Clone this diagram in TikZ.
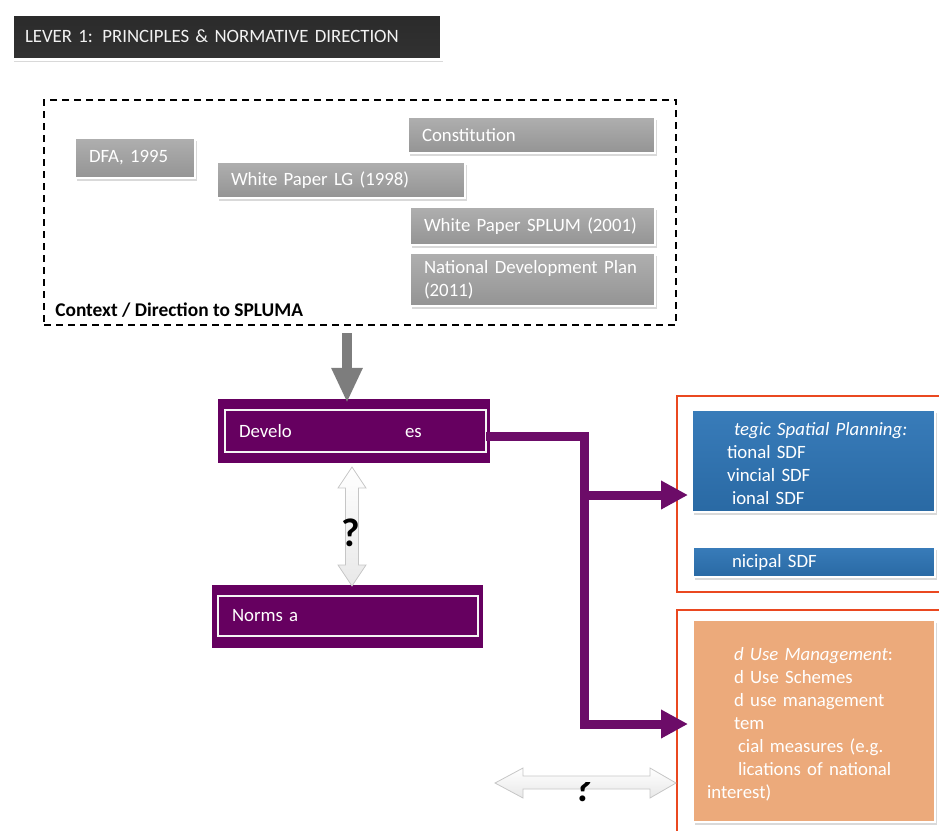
\documentclass[tikz,border=0pt]{standalone}
\usepackage{fontspec}
\setmainfont{Carlito}
\usetikzlibrary{shadows,arrows.meta,calc}
\definecolor{purp}{RGB}{102,0,96}
\definecolor{purpline}{RGB}{108,12,104}
\definecolor{docgray}{RGB}{168,168,168}
\definecolor{titlegray}{RGB}{62,62,62}
\definecolor{sdfblue}{RGB}{46,117,182}
\definecolor{lumorange}{RGB}{236,170,123}
\definecolor{frred}{RGB}{234,72,32}
\definecolor{arrgray}{RGB}{125,125,125}
\tikzset{
  basefont/.style={font=\fontsize{18.8pt}{23pt}\selectfont},
  shd/.style={drop shadow={opacity=0.3,shadow xshift=1.5pt,shadow yshift=-2.5pt}},
  titlebox/.style={shd, top color=titlegray!110!white, bottom color=titlegray!80!black, draw=white, line width=3pt, text=white!90!gray, inner xsep=13pt, inner ysep=0pt, align=left},
  docbox/.style={shd, top color=docgray!92!white, bottom color=docgray!88!black, draw=white, line width=2.5pt, text=white, inner xsep=14pt, inner ysep=0pt, align=left},
  ctxbox/.style={draw=black, line width=1.8pt, dash pattern=on 7pt off 5pt, inner sep=0pt},
  pbox/.style={fill=purp, draw=none, inner sep=0pt},
  pinner/.style={fill=purp, draw=white!92!gray, line width=2.5pt, text=white, inner xsep=14pt, inner ysep=0pt, align=left},
  frame/.style={draw=frred, line width=1.8pt, inner sep=0pt},
  bluebox/.style={shd, top color=sdfblue!95!white, bottom color=sdfblue!90!black, draw=white, line width=2pt, text=white, inner xsep=14pt, inner ysep=0pt, align=left},
  orangebox/.style={shd, fill=lumorange, draw=white, line width=2pt, text=white, inner xsep=14pt, inner ysep=0pt, align=left},
  graya/.style={draw=arrgray, line width=10pt, -{Triangle[length=35pt,width=29pt]}},
  pline/.style={draw=purpline, line width=9pt, line join=miter},
  parrow/.style={draw=purpline, line width=9pt, -{Triangle[length=27pt,width=27pt]}},
  dbla/.style={draw=gray!45, line width=0.8pt, top color=white, bottom color=gray!18},
  qmark/.style={font=\fontsize{40pt}{40pt}\selectfont\bfseries, text=black, inner sep=0pt}
}
\begin{document}
\begin{tikzpicture}[x=1pt,y=-1pt,basefont]
\useasboundingbox (0,0) rectangle (939,830);

% title
\node[titlebox, minimum width=429pt, minimum height=45pt, text width=403pt] (title) at (226.5,36.5) {LEVER 1: PRINCIPLES \& NORMATIVE DIRECTION};

% context box
\node[ctxbox, minimum width=632pt, minimum height=225pt] (ctx) at (360,212.5) {};
\node[anchor=base west, font=\fontsize{19.4pt}{23pt}\selectfont\bfseries, inner sep=0pt] (ctxlbl) at ($(ctx.south west)+(12,-9)$) {Context / Direction to SPLUMA};

\node[docbox, minimum width=247pt, minimum height=36pt, text width=219pt] (cons) at (531.5,135) {Constitution};
\node[docbox, minimum width=120pt, minimum height=40pt, text width=92pt] (dfa) at (135,158) {DFA, 1995};
\node[docbox, minimum width=248pt, minimum height=36pt, text width=220pt] (wplg) at (341,180) {White Paper LG (1998)};
\node[docbox, minimum width=245pt, minimum height=38pt, text width=217pt] (wps) at (532.5,226) {White Paper SPLUM (2001)};
\node[docbox, minimum width=245pt, minimum height=53pt, text width=217pt] (ndp) at (532.5,279.5) {National Development Plan\\(2011)};

% development principles box
\node[pbox, minimum width=272pt, minimum height=64pt] (dev) at (354,431) {};
\node[pinner, minimum width=261pt, minimum height=42pt, text width=233pt] (devtxt) at (355.5,431) {\makebox[166pt][l]{Develo}es};

% norms box
\node[pbox, minimum width=271pt, minimum height=63pt] (norms) at (347.5,616.5) {};
\node[pinner, minimum width=260pt, minimum height=40pt, text width=232pt] (normstxt) at (348,616) {Norms a};

% gray arrow from context to development
\coordinate (gs) at (347,333);
\draw[graya] (gs) -- ($(gs |- dev.north)+(0,4)$);

% vertical double arrow with question mark
\draw[dbla] (352,467) -- (366,488) -- (358.5,488) -- (358.5,565) -- (366,565) -- (352,586) -- (338,565) -- (345.5,565) -- (345.5,488) -- (338,488) -- cycle;
\node[qmark] (q1) at (351,533) {?};

% right frames
\node[frame, minimum width=268pt, minimum height=196pt] (fr1) at (811,494) {};
\node[frame, minimum width=268pt, minimum height=230pt] (fr2) at (811,725) {};

\node[bluebox, minimum width=243pt, minimum height=102pt, text width=215pt] (sp) at (813.5,461) {\rule{0pt}{19pt}\hspace*{28pt}\textit{tegic Spatial Planning:}\\\hspace*{21pt}tional SDF\\\hspace*{21pt}vincial SDF\\\hspace*{26pt}ional SDF};
\node[bluebox, minimum width=242pt, minimum height=30pt, text width=214pt] (msdf) at (814,562) {\hspace*{25pt}nicipal SDF};

\node[orangebox, minimum width=242pt, minimum height=202pt, text width=214pt] (lu) at (814,721) {\rule{0pt}{20pt}\hspace*{27pt}\textit{d Use Management}:\\\hspace*{27pt}d Use Schemes\\\hspace*{27pt}d use management\\\hspace*{27pt}tem\\\hspace*{31pt}cial measures (e.g.\\\hspace*{31pt}lications of national\\interest)};

% purple connectors
\coordinate (j1) at (584,436);
\coordinate (j2) at (584,495);
\coordinate (j3) at (584,724);
\draw[pline] ($(j1 -| dev.east)+(-4,0)$) -- (j1) -- ($(j3)+(0,4.5)$);
\draw[parrow] (j2) -- ($(j2 -| sp.west)+(-3,0)$);
\draw[parrow] (j3) -- ($(j3 -| lu.west)+(-4,0)$);

% horizontal double arrow with (partly hidden) question mark
\draw[dbla] (495,783) -- (523,768) -- (523,776) -- (650,776) -- (650,768) -- (676,783) -- (650,798) -- (650,789) -- (523,789) -- (523,798) -- cycle;
\begin{scope}
  \clip (560,782) rectangle (610,810);
  \node[qmark] (q2) at (584,788) {?};
\end{scope}
\end{tikzpicture}
\end{document}
